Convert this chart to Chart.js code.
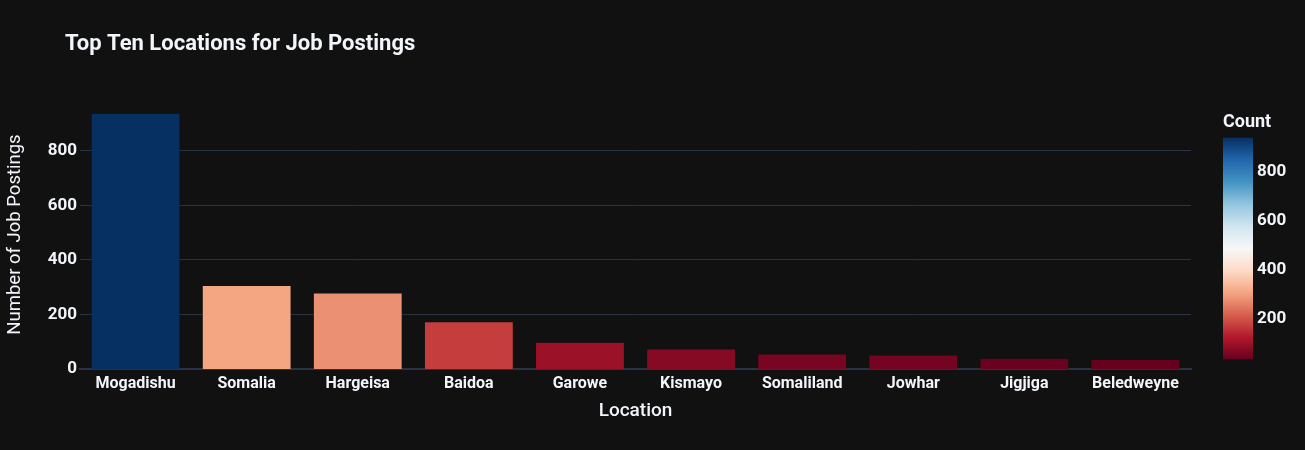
<!DOCTYPE html>
<html>
<head>
<meta charset="utf-8">
<script src="https://cdn.jsdelivr.net/npm/chart.js@4.4.1/dist/chart.umd.min.js"></script>
<style>
  html, body { margin: 0; padding: 0; background: #111111; }
  #wrap { width: 1305px; height: 450px; position: relative; }
</style>
</head>
<body>
<div id="wrap"><canvas id="c" width="1305" height="450"></canvas></div>
<script>
const categories = ['Mogadishu', 'Somalia', 'Hargeisa', 'Baidoa', 'Garowe', 'Kismayo', 'Somaliland', 'Jowhar', 'Jigjiga', 'Beledweyne'];
const counts = [938, 306, 279, 173, 98, 73, 55, 51, 39, 35];
const yTicks = [0, 200, 400, 600, 800];
const colorbarTicks = [200, 400, 600, 800];
const rdbu = [[103,0,31],[178,24,43],[214,96,77],[244,165,130],[253,219,199],[247,247,247],[209,229,240],[146,197,222],[67,147,195],[33,102,172],[5,48,97]];

const TEXT = '#f2f5fa';
const FONT = 'Roboto, "Liberation Sans", sans-serif';
const cmin = Math.min(...counts), cmax = Math.max(...counts);

function colorAt(v) {
  let t = (v - cmin) / (cmax - cmin);
  t = Math.max(0, Math.min(1, t));
  const p = t * (rdbu.length - 1);
  const i = Math.min(Math.floor(p), rdbu.length - 2);
  const f = p - i;
  const a = rdbu[i], b = rdbu[i + 1];
  const c = a.map((x, k) => Math.round(x + (b[k] - x) * f));
  return `rgb(${c[0]},${c[1]},${c[2]})`;
}

const titlePlugin = {
  id: 'plotTitle',
  afterDraw(chart) {
    const ctx = chart.ctx;
    ctx.save();
    ctx.fillStyle = TEXT;
    ctx.font = `bold 22px ${FONT}`;
    ctx.textAlign = 'left';
    ctx.textBaseline = 'middle';
    ctx.fillText('Top Ten Locations for Job Postings', 65, 44.5);
    ctx.restore();
  }
};

const colorbarPlugin = {
  id: 'colorbar',
  afterDraw(chart) {
    const ctx = chart.ctx;
    const x0 = 1223, w = 30, yTop = 137.7, yBot = 359.3;
    const toY = v => yBot - (v - cmin) / (cmax - cmin) * (yBot - yTop);
    ctx.save();
    const g = ctx.createLinearGradient(0, yBot, 0, yTop);
    rdbu.forEach((c, i) => g.addColorStop(i / (rdbu.length - 1), `rgb(${c[0]},${c[1]},${c[2]})`));
    ctx.fillStyle = g;
    ctx.fillRect(x0, yTop, w, yBot - yTop);
    ctx.fillStyle = TEXT;
    ctx.font = `bold 17px ${FONT}`;
    ctx.textAlign = 'left';
    ctx.textBaseline = 'middle';
    colorbarTicks.forEach(v => ctx.fillText(String(v), x0 + w + 4, toY(v)));
    ctx.font = `bold 18px ${FONT}`;
    ctx.fillText('Count', x0, 122);
    ctx.restore();
  }
};

new Chart(document.getElementById('c'), {
  type: 'bar',
  data: {
    labels: categories,
    datasets: [{
      data: counts,
      backgroundColor: counts.map(colorAt),
      borderColor: '#111111',
      borderWidth: 0.5,
      categoryPercentage: 0.8,
      barPercentage: 1.0
    }]
  },
  options: {
    responsive: false,
    animation: false,
    devicePixelRatio: 1,
    layout: { padding: { top: 100, right: 114, bottom: 0, left: 0 } },
    plugins: { legend: { display: false }, tooltip: { enabled: false }, title: { display: false } },
    scales: {
      x: {
        grid: { display: false, drawTicks: false },
        border: { display: true, color: '#283442', width: 2 },
        ticks: { color: TEXT, font: { family: FONT, size: 16, weight: 'bold' }, padding: 5, maxRotation: 0 },
        title: { display: true, text: 'Location', color: TEXT, font: { family: FONT, size: 19, weight: '500' }, padding: { top: 0, bottom: 27 } },
        afterFit(s) { s.height = 81; }
      },
      y: {
        min: 0, max: 987,
        afterBuildTicks(s) { s.ticks = yTicks.map(v => ({ value: v })); },
        grid: { color: '#283442', lineWidth: c => (c.tick && c.tick.value === 0 ? 0 : 1), drawTicks: false },
        border: { display: false },
        ticks: { color: TEXT, font: { family: FONT, size: 17, weight: 'bold' }, padding: 3, includeBounds: false },
        title: { display: true, text: 'Number of Job Postings', color: TEXT, font: { family: FONT, size: 18.5 }, padding: { top: 4, bottom: 0 } },
        afterFit(s) { s.width = 80; }
      }
    }
  },
  plugins: [titlePlugin, colorbarPlugin]
});
</script>
</body>
</html>
